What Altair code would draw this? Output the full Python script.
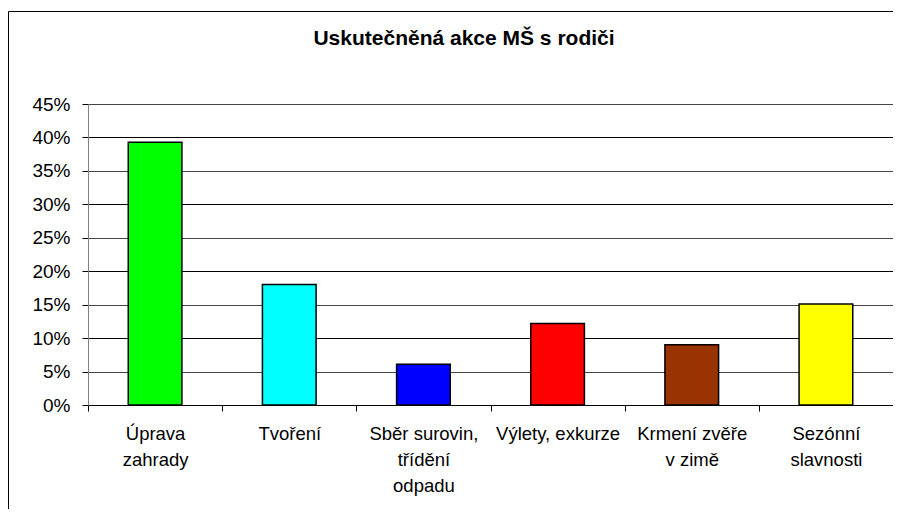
import altair as alt
import pandas as pd

title_text = "Uskutečněná akce MŠ s rodiči"
categories = ["Úprava\nzahrady", "Tvoření", "Sběr surovin,\ntřídění\nodpadu",
              "Výlety, exkurze", "Krmení zvěře\nv zimě", "Sezónní\nslavnosti"]
values = [0.393, 0.180, 0.061, 0.122, 0.090, 0.151]
colors = ["#00FF00", "#00FFFF", "#0000FF", "#FF0000", "#993300", "#FFFF00"]
y_ticks = [0, 0.05, 0.10, 0.15, 0.20, 0.25, 0.30, 0.35, 0.40, 0.45]

df = pd.DataFrame({"category": categories, "value": values})

FONT = "Liberation Sans"

bars = alt.Chart(df).mark_bar(
    width=alt.RelativeBandSize(0.4), stroke="black", strokeWidth=1.5
).encode(
    x=alt.X("category:N", sort=categories, title=None,
            scale=alt.Scale(paddingInner=0, paddingOuter=0),
            axis=alt.Axis(labelAngle=0,
                          labelExpr="datum.value ? split(datum.value, '\\n') : ''",
                          labelLineHeight=26, labelFontSize=18.5, labelFont=FONT,
                          labelColor="black", labelPadding=13, labelBaseline="top",
                          tickBand="extent", tickSize=6, tickColor="#000000",
                          domainColor="#000000", grid=False)),
    y=alt.Y("value:Q", title=None,
            scale=alt.Scale(domain=[0, 0.45], nice=False),
            axis=alt.Axis(values=y_ticks, format=".0%", labelFontSize=19,
                          labelFont=FONT, labelColor="black", labelPadding=12,
                          tickSize=6, tickColor="#000000", domainColor="#808080",
                          grid=True,
                          gridColor={"condition": {"test": "round(datum.value*100) % 10 == 0",
                                                   "value": "#000000"},
                                     "value": "#444444"},
                          gridOpacity=1, gridWidth=1)),
    color=alt.Color("category:N", scale=alt.Scale(domain=categories, range=colors),
                    legend=None),
)

frame_top = alt.Chart(alt.Data(values=[{}])).mark_rule(
    stroke="black", strokeWidth=1
).encode(x=alt.value(-79.5), x2=alt.value(1000), y=alt.value(-92.5))

frame_left = alt.Chart(alt.Data(values=[{}])).mark_rule(
    stroke="black", strokeWidth=1
).encode(x=alt.value(-79.5), y=alt.value(-92.5), y2=alt.value(700))

title = alt.Chart(alt.Data(values=[{}])).mark_text(
    font=FONT, fontSize=21, fontWeight="bold", color="black",
    align="center", baseline="alphabetic"
).encode(
    x=alt.value(376), y=alt.value(-59), text=alt.value(title_text)
)

chart = alt.layer(frame_top, frame_left, bars, title).properties(
    width=805, height=301,
    autosize=alt.AutoSizeParams(type="none"),
    padding={"left": 80, "top": 96, "right": 0, "bottom": 104},
).configure_view(
    fill="#C0C0C0", stroke="#808080", strokeWidth=1
).configure(background="white")

chart.save("out.html", embed_options={"renderer": "svg", "actions": False})
